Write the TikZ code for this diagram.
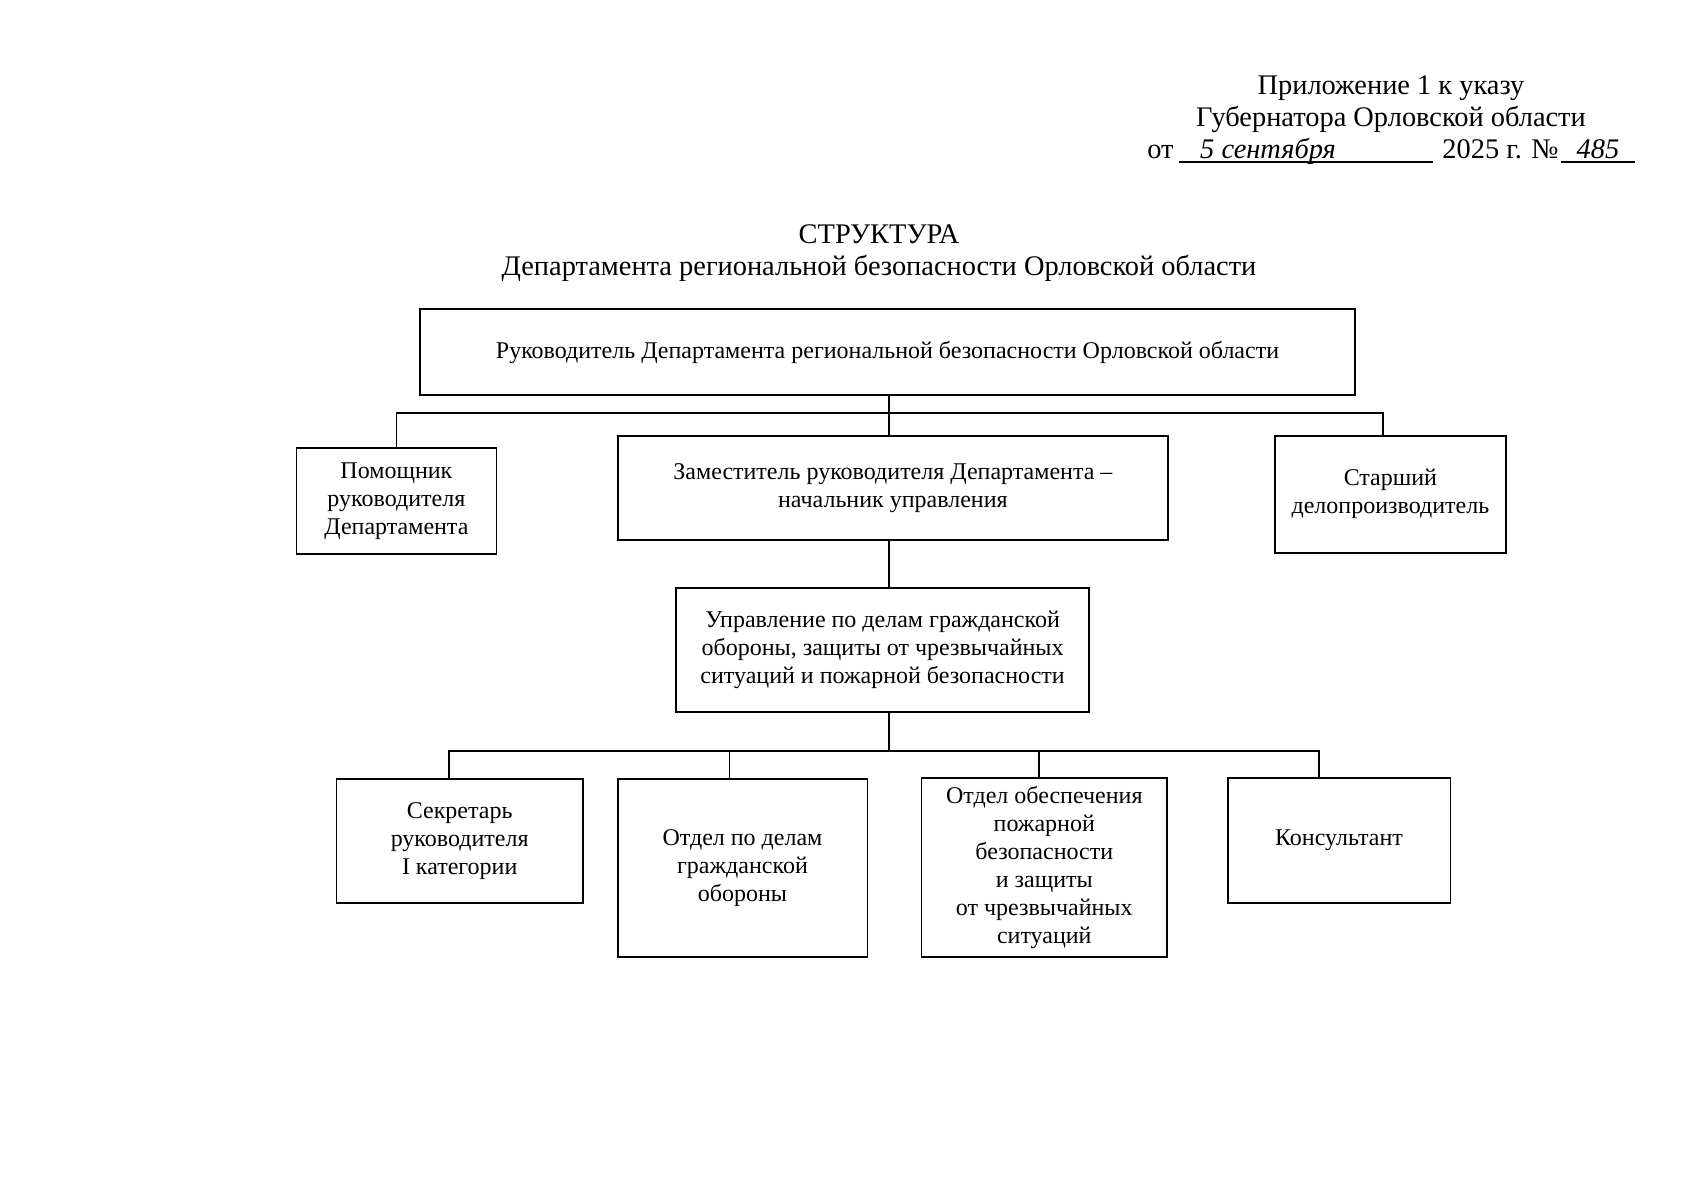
\documentclass[tikz,border=0pt]{standalone}
\usepackage{fontspec}
\setmainfont{Liberation Serif}
\newcommand{\boxfont}{\fontsize{12}{14}\selectfont}
\newcommand{\headfont}{\fontsize{14.2}{16.2}\selectfont}

\begin{document}
\begin{tikzpicture}[x=0.5pt, y=-0.5pt,
    unit/.style={draw, line width=0.9pt, align=center, inner sep=0pt, font=\boxfont},
    link/.style={line width=0.7pt}]
\useasboundingbox (0,0) rectangle (1696,1200);
                    % Header
                    \node[font=\headfont, anchor=base, inner sep=0pt] (pril) at (1391,94) {Приложение 1 к указу};
                    \node[font=\headfont, anchor=base, inner sep=0pt] (gub) at (1391,126) {Губернатора Орловской области};
                    \node[font=\headfont, anchor=base west, inner sep=0pt] (ot) at (1147,158) {от};
                    \node[font=\headfont\itshape, anchor=base, inner sep=0pt] (data) at (1268,158) {5 сентября};
                    \node[font=\headfont, anchor=base west, inner sep=0pt] (god) at (1442,158) {2025 г. №};
                    \node[font=\headfont\itshape, anchor=base, inner sep=0pt] (nomer) at (1598,158) {485};
                    \draw[link] (1179,162) -- (1433,162);
                    \draw[link] (1561,162) -- (1635,162);
                    % Title
                    \node[font=\headfont, align=center] (titul) at (879,253) {СТРУКТУРА\\Департамента региональной безопасности Орловской области};
                    % Nodes
                    \node[unit, minimum width=467.8pt, minimum height=42.7pt] (ruk) at (887.5,352) {Руководитель Департамента региональной безопасности Орловской области};
                    \node[unit, minimum width=100pt, minimum height=53pt] (pom) at (396.4,500.8) {Помощник\\руководителя\\Департамента};
                    \node[unit, minimum width=275.3pt, minimum height=51.9pt] (zam) at (892.9,487.8) {Заместитель руководителя Департамента –\\начальник управления};
                    \node[unit, minimum width=115.2pt, minimum height=58.4pt] (star) at (1390.4,494.3) {Старший\\делопроизводитель};
                    \node[unit, minimum width=206.5pt, minimum height=61.7pt] (upr) at (882.6,650) {Управление по делам гражданской\\обороны, защиты от чрезвычайных\\ситуаций и пожарной безопасности};
                    \node[unit, minimum width=123.3pt, minimum height=62.2pt] (sekr) at (459.7,841) {Секретарь\\руководителя\\I категории};
                    \node[unit, minimum width=124.9pt, minimum height=89.2pt] (go) at (742.5,868) {Отдел по делам\\гражданской\\обороны};
                    \node[unit, minimum width=122.8pt, minimum height=89.8pt] (pb) at (1044.3,867.5) {Отдел обеспечения\\пожарной\\безопасности\\и защиты\\от чрезвычайных\\ситуаций};
                    \node[unit, minimum width=111.4pt, minimum height=62.7pt] (kons) at (1339,840.4) {Консультант};
                    % Edges
                    \coordinate (bus1) at (889,413);
                    \coordinate (bus2) at (889,751);
                    \draw[link] (ruk.south -| bus1) -- (zam.north -| bus1);
                    \draw[link] (pom.north) |- (bus1) -| ([xshift=-3.7pt]star.north);
                    \draw[link] (zam.south -| bus1) -- (upr.north -| bus1);
                    \draw[link] (upr.south -| bus2) -- (bus2);
                    \draw[link] ([xshift=-5.3pt]sekr.north) |- (bus2) -| ([xshift=-10pt]kons.north);
                    \draw[link] ([xshift=-6.5pt]go.north) |- (bus2);
                    \draw[link] ([xshift=-2.6pt]pb.north) |- (bus2);
\end{tikzpicture}
\end{document}
